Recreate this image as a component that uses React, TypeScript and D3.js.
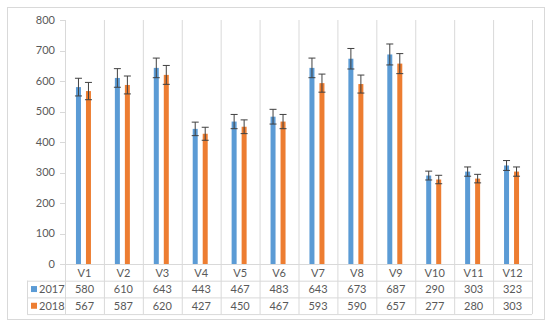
import React from "react";
import * as d3 from "d3";

const categories = ["V1","V2","V3","V4","V5","V6","V7","V8","V9","V10","V11","V12"];
const seriesNames = ["2017","2018"];
const values2017 = [580,610,643,443,467,483,643,673,687,290,303,323];
const values2018 = [567,587,620,427,450,467,593,590,657,277,280,303];
const yTicks = [0,100,200,300,400,500,600,700,800];
const errorPercent = 0.05;

const colors = ["#5B9BD5", "#ED7D31"];
const W = 550, H = 329;
const plotLeft = 65, plotRight = 532, plotTop = 20, plotBottom = 264;
const rowH = 16.7;
const tableLeft = 27;
const font = "Lato, 'Open Sans', sans-serif";
const textColor = "#595959";
const gridColor = "#D9D9D9";

export default function App() {
  const x = d3.scaleBand<string>().domain(categories).range([plotLeft, plotRight]);
  const y = d3.scaleLinear().domain([0, 800]).range([plotBottom, plotTop]);
  const mid = x.bandwidth() / 2;
  const inner = d3.scaleBand<string>().domain(seriesNames).range([mid - 11, mid + 9]).paddingInner(0.5).paddingOuter(0.25);
  const allSeries = [values2017, values2018];
  const bw = inner.bandwidth();
  const rows = [plotBottom, plotBottom + rowH, plotBottom + 2 * rowH, plotBottom + 3 * rowH];

  return (
    <svg width={W} height={H} style={{ position: "absolute", left: 0, top: 0 }}>
      <rect x={0} y={0} width={W} height={H} fill="#fff" />
      <rect x={7.5} y={7.5} width={537} height={312} fill="#fff" stroke={gridColor} />
      {categories.map((c, i) => (
        <line key={"v" + i} x1={x(c)! + 0.5} x2={x(c)! + 0.5} y1={plotTop} y2={rows[3]} stroke={gridColor} />
      ))}
      <line x1={plotRight + 0.5} x2={plotRight + 0.5} y1={plotTop} y2={rows[3]} stroke={gridColor} />
      <line x1={tableLeft + 0.5} x2={tableLeft + 0.5} y1={rows[1]} y2={rows[3]} stroke={gridColor} />
      <line x1={plotLeft} x2={plotRight} y1={rows[0] + 0.5} y2={rows[0] + 0.5} stroke={gridColor} />
      <line x1={tableLeft} x2={plotRight} y1={rows[1] + 0.5} y2={rows[1] + 0.5} stroke={gridColor} />
      <line x1={tableLeft} x2={plotRight} y1={rows[2] + 0.5} y2={rows[2] + 0.5} stroke={gridColor} />
      <line x1={tableLeft} x2={plotRight} y1={rows[3] + 0.5} y2={rows[3] + 0.5} stroke={gridColor} />
      {yTicks.map((t) => (
        <g key={"t" + t}>
          <line x1={plotLeft - 5} x2={plotLeft} y1={Math.round(y(t)) + 0.5} y2={Math.round(y(t)) + 0.5} stroke={gridColor} />
          <text x={55} y={y(t)} dy="0.35em" textAnchor="end" fontFamily={font} fontSize={11} fill={textColor}>{t}</text>
        </g>
      ))}
      {allSeries.map((vals, si) =>
        categories.map((c, i) => {
          const left = x(c)! + inner(seriesNames[si])!;
          const cx = left + bw / 2;
          const v = vals[i];
          const e = v * errorPercent;
          return (
            <g key={si + "-" + i}>
              <rect x={left} y={y(v)} width={bw} height={plotBottom - y(v)} fill={colors[si]} />
              <line x1={cx} x2={cx} y1={y(v + e)} y2={y(v - e)} stroke="#404040" strokeWidth={1} />
              <line x1={cx - 3.5} x2={cx + 3.5} y1={y(v + e)} y2={y(v + e)} stroke="#404040" strokeWidth={1} />
              <line x1={cx - 3.5} x2={cx + 3.5} y1={y(v - e)} y2={y(v - e)} stroke="#404040" strokeWidth={1} />
            </g>
          );
        })
      )}
      {categories.map((c) => (
        <text key={"c" + c} x={x(c)! + x.bandwidth() / 2} y={rows[0] + rowH / 2 + 0.5} dy="0.35em" textAnchor="middle" fontFamily={font} fontSize={11} fill={textColor}>{c}</text>
      ))}
      {allSeries.map((vals, si) => (
        <g key={"row" + si}>
          <rect x={31} y={rows[si + 1] + rowH / 2 - 3} width={6} height={6} fill={colors[si]} />
          <text x={39} y={rows[si + 1] + rowH / 2 + 0.5} dy="0.35em" fontFamily={font} fontSize={11} fill={textColor}>{seriesNames[si]}</text>
          {categories.map((c, i) => (
            <text key={c} x={x(c)! + x.bandwidth() / 2} y={rows[si + 1] + rowH / 2 + 0.5} dy="0.35em" textAnchor="middle" fontFamily={font} fontSize={11} fill={textColor}>{vals[i]}</text>
          ))}
        </g>
      ))}
    </svg>
  );
}
